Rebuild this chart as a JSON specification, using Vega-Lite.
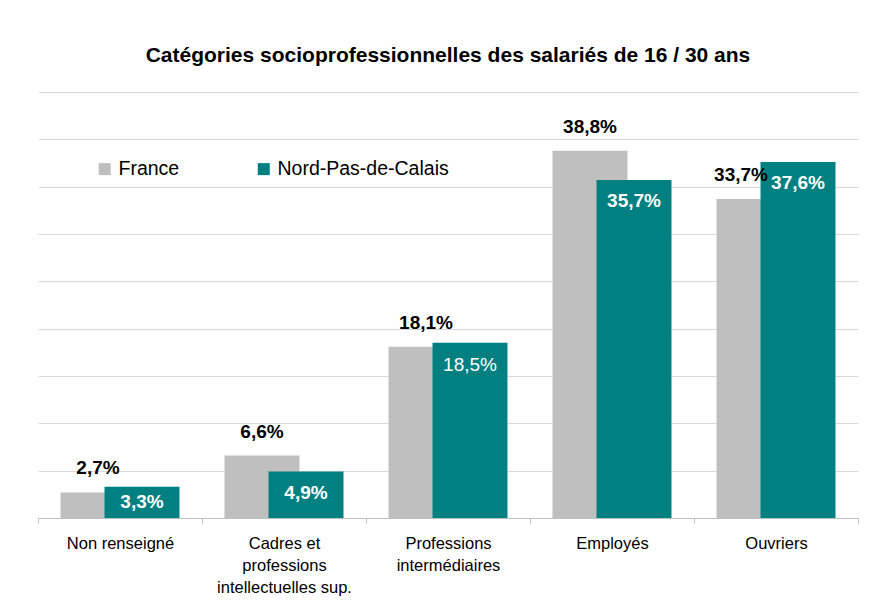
{
  "$schema": "https://vega.github.io/schema/vega-lite/v6.json",
  "autosize": {"type": "none"},
  "width": 820,
  "height": 426,
  "padding": {"left": 38, "top": 92, "right": 12, "bottom": 96},
  "background": "white",
  "config": {
    "view": {"stroke": null},
    "font": "Liberation Sans"
  },
  "title": {
    "text": "Catégories socioprofessionnelles des salariés de 16 / 30 ans",
    "font": "Liberation Sans",
    "fontSize": 21,
    "fontWeight": "bold",
    "color": "#000000",
    "anchor": "middle",
    "baseline": "alphabetic",
    "offset": 9
  },
  "data": {
    "values": [
      {"cat": "Non renseigné", "serie": "France", "v": 2.7},
      {"cat": "Cadres et professions intellectuelles sup.", "serie": "France", "v": 6.6},
      {"cat": "Professions intermédiaires", "serie": "France", "v": 18.1},
      {"cat": "Employés", "serie": "France", "v": 38.8},
      {"cat": "Ouvriers", "serie": "France", "v": 33.7},
      {"cat": "Non renseigné", "serie": "Nord-Pas-de-Calais", "v": 3.3},
      {"cat": "Cadres et professions intellectuelles sup.", "serie": "Nord-Pas-de-Calais", "v": 4.9},
      {"cat": "Professions intermédiaires", "serie": "Nord-Pas-de-Calais", "v": 18.5},
      {"cat": "Employés", "serie": "Nord-Pas-de-Calais", "v": 35.7},
      {"cat": "Ouvriers", "serie": "Nord-Pas-de-Calais", "v": 37.6}
    ]
  },
  "transform": [
    {"calculate": "replace(format(datum.v, '.1f'), '.', ',') + '%'", "as": "lab"}
  ],
  "encoding": {
    "x": {
      "field": "cat",
      "type": "nominal",
      "sort": null,
      "scale": {"paddingInner": 0, "paddingOuter": 0},
      "axis": {
        "title": null,
        "labelAngle": 0,
        "labelFont": "Liberation Sans",
        "labelFontSize": 16.5,
        "labelColor": "#000000",
        "labelLineHeight": 22,
        "labelPadding": 12,
        "labelBaseline": "top",
        "labelLimit": 200,
        "domainColor": "#BFBFBF",
        "domainWidth": 1,
        "tickColor": "#BFBFBF",
        "tickSize": 5,
        "tickBand": "extent",
        "grid": false,
        "labelExpr": "datum.value == 'Cadres et professions intellectuelles sup.' ? ['Cadres et', 'professions', 'intellectuelles sup.'] : datum.value == 'Professions intermédiaires' ? ['Professions', 'intermédiaires'] : datum.value"
      }
    },
    "y": {
      "field": "v",
      "type": "quantitative",
      "scale": {"domain": [0, 45], "nice": false},
      "axis": {
        "title": null,
        "labels": false,
        "ticks": false,
        "domain": false,
        "values": [5, 10, 15, 20, 25, 30, 35, 40, 45],
        "gridColor": "#D9D9D9",
        "gridWidth": 1
      }
    }
  },
  "layer": [
    {
      "transform": [{"filter": "datum.serie == 'France'"}],
      "mark": {"type": "bar", "width": 75, "xOffset": -22},
      "encoding": {
        "color": {
          "field": "serie",
          "type": "nominal",
          "scale": {"domain": ["France", "Nord-Pas-de-Calais"], "range": ["#BFBFBF", "#008080"]},
          "legend": {
            "title": null,
            "orient": "none",
            "direction": "horizontal",
            "legendX": 21,
            "legendY": 59,
            "fillColor": "white",
            "padding": 8,
            "symbolOffset": 28,
            "symbolType": "square",
            "symbolSize": 144,
            "symbolStrokeWidth": 0,
            "labelFont": "Liberation Sans",
            "labelFontSize": 19.5,
            "labelColor": "#000000",
            "labelOffset": 4,
            "columnPadding": 46,
            "labelLimit": 300
          }
        }
      }
    },
    {
      "transform": [{"filter": "datum.serie == 'Nord-Pas-de-Calais'"}],
      "mark": {"type": "bar", "width": 75, "xOffset": 22},
      "encoding": {
        "color": {"field": "serie", "type": "nominal"}
      }
    },
    {
      "transform": [{"filter": "datum.serie == 'France' && datum.cat != 'Ouvriers'"}],
      "mark": {"type": "text", "xOffset": -22, "dy": -18, "baseline": "alphabetic", "fontSize": 19, "fontWeight": "bold", "color": "#000000", "font": "Liberation Sans"},
      "encoding": {"text": {"field": "lab"}}
    },
    {
      "transform": [{"filter": "datum.serie == 'France' && datum.cat == 'Ouvriers'"}],
      "mark": {"type": "text", "xOffset": -35, "dy": -18, "baseline": "alphabetic", "fontSize": 19, "fontWeight": "bold", "color": "#000000", "font": "Liberation Sans"},
      "encoding": {"text": {"field": "lab"}}
    },
    {
      "transform": [{"filter": "datum.serie == 'Nord-Pas-de-Calais' && datum.cat != 'Professions intermédiaires' && datum.cat != 'Non renseigné'"}],
      "mark": {"type": "text", "xOffset": 22, "dy": 27, "baseline": "alphabetic", "fontSize": 19, "fontWeight": "bold", "color": "#FFFFFF", "font": "Liberation Sans"},
      "encoding": {"text": {"field": "lab"}}
    },
    {
      "transform": [{"filter": "datum.serie == 'Nord-Pas-de-Calais' && datum.cat == 'Non renseigné'"}],
      "mark": {"type": "text", "xOffset": 22, "dy": 21, "baseline": "alphabetic", "fontSize": 19, "fontWeight": "bold", "color": "#FFFFFF", "font": "Liberation Sans"},
      "encoding": {"text": {"field": "lab"}}
    },
    {
      "transform": [{"filter": "datum.serie == 'Nord-Pas-de-Calais' && datum.cat == 'Professions intermédiaires'"}],
      "mark": {"type": "text", "xOffset": 22, "dy": 28, "baseline": "alphabetic", "fontSize": 19, "fontWeight": "normal", "color": "#FFFFFF", "font": "Liberation Sans"},
      "encoding": {"text": {"field": "lab"}}
    }
  ]
}
